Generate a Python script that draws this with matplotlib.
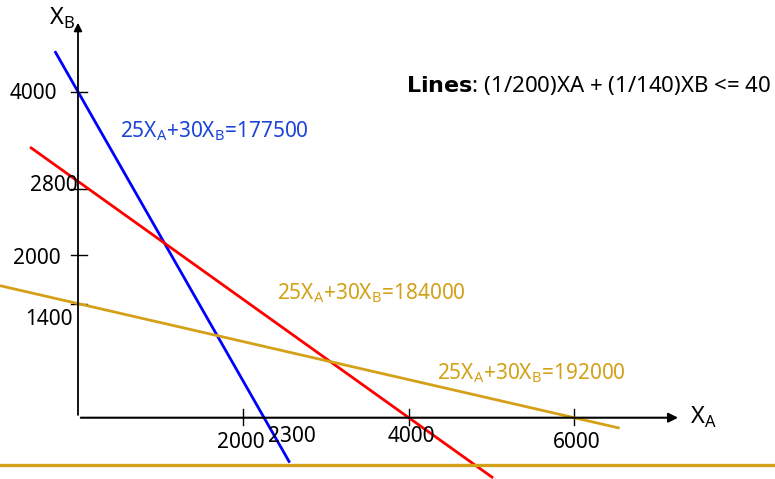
import numpy as np
import matplotlib.pyplot as plt
from matplotlib.lines import Line2D

plt.rcParams['font.family'] = ['Noto Sans', 'DejaVu Sans']

# --- data: iso-profit lines 25XA + 30XB = const (axis intercepts as drawn) ---
x_intercepts = [2250, 4000, 6000]
y_intercepts = [4000, 2900, 1400]
x_start = [-280, -580, -943]
x_end = [2560, 5020, 6550]
line_colors = ['#0000FF', '#FF0000', '#D4A017']

label_texts = ['25X$_\\mathregular{A}$+30X$_\\mathregular{B}$=177500',
               '25X$_\\mathregular{A}$+30X$_\\mathregular{B}$=184000',
               '25X$_\\mathregular{A}$+30X$_\\mathregular{B}$=192000']
label_colors = ['#1c44d8', '#D4A017', '#D4A017']

y_ticks = [4000, 2800, 2000, 1400]
x_ticks = [2000, 4000, 6000]
x_tick_labels = ['2000', '2300', '4000', '6000']
x_label_vals = [2000, 2300, 4000, 6000]

gold = '#D4A017'

fig = plt.figure(figsize=(7.75, 4.79), dpi=100)
ax = fig.add_axes([0, 0, 1, 1])
ax.axis('off')
ax.set_xlim(-943, 8428)
ax.set_ylim(-752, 5125)

# lines
for xi, yi, x0, x1, c in zip(x_intercepts, y_intercepts, x_start, x_end, line_colors):
    xs = np.array([x0, x1])
    ax.plot(xs, yi * (1 - xs / xi), color=c, lw=2.0, solid_capstyle='butt', zorder=3)

# axes with arrows
ax.annotate('', xy=(7290, 0), xytext=(0, 0),
            arrowprops=dict(arrowstyle='-|>', color='black', lw=1.5, mutation_scale=14))
ax.annotate('', xy=(0, 4880), xytext=(0, 0),
            arrowprops=dict(arrowstyle='-|>', color='black', lw=1.3, mutation_scale=12))

# tick crosses
for v in y_ticks:
    ax.plot([-90, 110], [v, v], color='black', lw=1, zorder=2)
for v in x_ticks:
    ax.plot([v, v], [-90, 110], color='black', lw=1, zorder=2)

fs = 15
# y tick labels (hand placed offsets in pixels)
y_off = [(-21, -2), (0, 4), (-17, -4), (-5, -16)]
for v, (dx, dy) in zip(y_ticks, y_off):
    ax.annotate(str(v), xy=(0, v), xytext=(dx, dy), textcoords='offset pixels',
                ha='right', va='center', fontsize=fs)

x_off = [(-3, -25), (24, -19), (3, -19), (2, -25)]
for v, t, (dx, dy) in zip(x_label_vals, x_tick_labels, x_off):
    ax.annotate(t, xy=(v, 0), xytext=(dx, dy), textcoords='offset pixels',
                ha='center', va='center', fontsize=fs)

# axis names
ax.text(-345, 4900, 'X$_\\mathregular{B}$', fontsize=17, ha='left', va='center')
ax.text(7400, 0, 'X$_\\mathregular{A}$', fontsize=17, ha='left', va='center')

# line labels
label_pos = [(510, 3520), (2410, 1530), (4340, 550)]
for t, c, (px, py) in zip(label_texts, label_colors, label_pos):
    ax.text(px, py, t, color=c, fontsize=fs, ha='left', va='center')

ax.text(3970, 4070, r'$\mathbf{Lines}$: (1/200)XA + (1/140)XB <= 40',
        fontsize=16, ha='left', va='center')

# gold rule at the bottom of the slide
fig.add_artist(Line2D([0, 1], [1 - 465 / 479] * 2, color=gold, lw=2.4,
                      transform=fig.transFigure))

fig.savefig('out.png', dpi=100)
